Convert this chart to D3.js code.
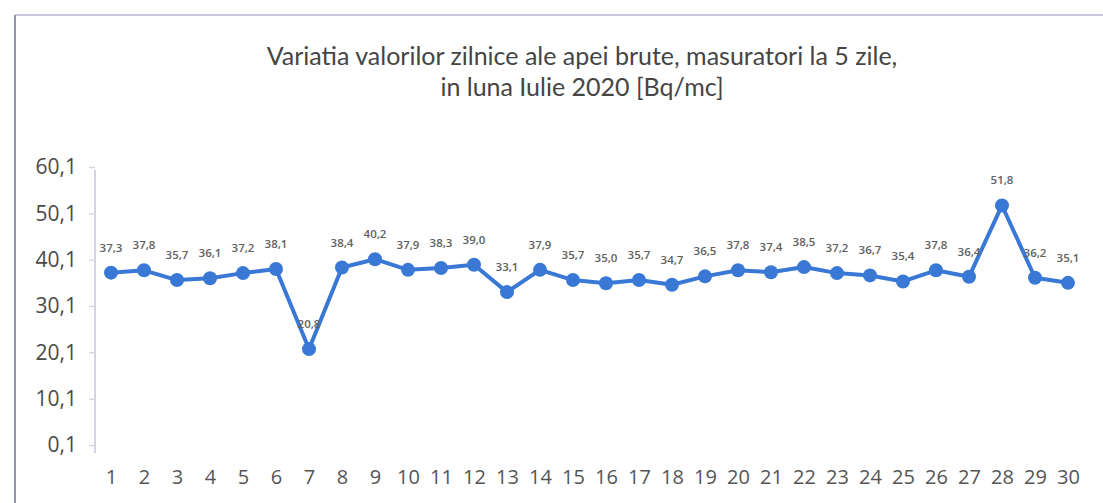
<!DOCTYPE html>
<html>
<head>
<meta charset="utf-8">
<script src="https://cdn.jsdelivr.net/npm/d3@7"></script>
<style>
  html, body { margin: 0; padding: 0; background: #fff; }
  svg { display: block; }
</style>
</head>
<body>
<svg id="chart" width="1103" height="503"></svg>
<script>
// Daily values, July 2020 [Bq/mc]
const days = d3.range(1, 31);
const values = [37.3, 37.8, 35.7, 36.1, 37.2, 38.1, 20.8, 38.4, 40.2, 37.9,
                38.3, 39.0, 33.1, 37.9, 35.7, 35.0, 35.7, 34.7, 36.5, 37.8,
                37.4, 38.5, 37.2, 36.7, 35.4, 37.8, 36.4, 51.8, 36.2, 35.1];
const yTicks = [0.1, 10.1, 20.1, 30.1, 40.1, 50.1, 60.1];
const titleLines = ["Variatia valorilor zilnice ale apei brute, masuratori la 5 zile,",
                    "in luna Iulie 2020 [Bq/mc]"];

const svg = d3.select("#chart");
const fmt = v => v.toFixed(1).replace(".", ",");

const x = d3.scalePoint().domain(days).range([111, 1068]);
const y = d3.scaleLinear().domain([0.1, 60.1]).range([445, 167]);

// frame of the chart area
svg.append("line").attr("x1", 15).attr("x2", 1103).attr("y1", 15).attr("y2", 15)
  .attr("stroke", "#c9c9dc").attr("stroke-width", 2);
svg.append("line").attr("x1", 15).attr("x2", 15).attr("y1", 15).attr("y2", 503)
  .attr("stroke", "#8e97ad").attr("stroke-width", 2);

// title
svg.append("g").selectAll("text").data(titleLines).join("text")
  .attr("x", 582).attr("y", (d, i) => 65 + i * 31)
  .attr("text-anchor", "middle")
  .attr("font-family", "Lato, 'Open Sans', sans-serif")
  .attr("font-size", 25)
  .attr("fill", "#454545")
  .text(d => d);

// y axis
const yAxis = svg.append("g").attr("transform", "translate(95,0)")
  .call(d3.axisLeft(y).tickValues(yTicks).tickFormat(fmt).tickSize(6).tickPadding(12));
yAxis.select(".domain").attr("stroke", "#d4d4e6").attr("stroke-width", 2)
  .attr("d", `M0,${y(60.1) + 3}V${y(0.1) + 8}`);
yAxis.selectAll(".tick line").attr("stroke", "#d8d8e4").attr("stroke-width", 1.5);
yAxis.selectAll(".tick text")
  .attr("font-family", "'Open Sans', sans-serif").attr("font-size", 21)
  .attr("fill", "#4a4a4a");

// x axis labels
const xAxis = svg.append("g").attr("transform", "translate(0,445)")
  .call(d3.axisBottom(x).tickSize(0).tickPadding(25));
xAxis.select(".domain").remove();
xAxis.selectAll(".tick text")
  .attr("font-family", "'Open Sans', sans-serif").attr("font-size", 20)
  .attr("fill", "#555");

// series line
const line = d3.line().x((d, i) => x(days[i])).y(d => y(d));
svg.append("path").datum(values)
  .attr("d", line)
  .attr("fill", "none")
  .attr("stroke", "#3a78d6")
  .attr("stroke-width", 4)
  .attr("stroke-linejoin", "round");

// markers
svg.append("g").selectAll("circle").data(values).join("circle")
  .attr("cx", (d, i) => x(days[i])).attr("cy", d => y(d))
  .attr("r", 7).attr("fill", "#3a78d6");

// value labels
svg.append("g").selectAll("text").data(values).join("text")
  .attr("x", (d, i) => x(days[i])).attr("y", d => y(d) - 21)
  .attr("text-anchor", "middle")
  .attr("font-family", "'Open Sans', sans-serif")
  .attr("font-size", 11.5)
  .attr("font-weight", 600)
  .attr("fill", "#606060")
  .text(d => fmt(d));
</script>
</body>
</html>
